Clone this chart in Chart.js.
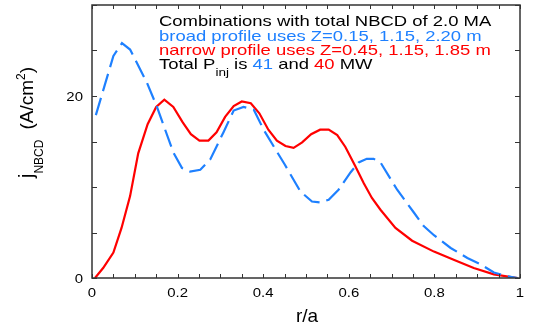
<!DOCTYPE html>
<html><head><meta charset="utf-8">
<script src="https://cdn.jsdelivr.net/npm/chart.js@4.4.1/dist/chart.umd.min.js"></script>
<style>html,body{margin:0;padding:0;background:#fff}#wrap{width:534px;height:329px}</style>
</head><body><div id="wrap"><canvas id="c" width="534" height="329"></canvas></div>
<script>
const broadX = [0.009,0.05,0.07,0.089,0.128,0.151,0.19,0.21,0.229,0.253,0.276,0.307,0.331,0.354,0.378,0.401,0.424,0.45,0.487,0.514,0.533,0.553,0.576,0.604,0.623,0.642,0.658,0.674,0.713,0.752,0.775,0.799,0.838,0.877,0.908,0.939,0.970,0.994];
const broadY = [17.9,24.4,25.8,25.1,21.5,18.9,13.8,12.1,11.7,11.9,13.0,16.0,18.4,18.8,18.5,16.3,14.5,12.5,9.5,8.4,8.3,8.6,9.7,11.6,12.7,13.1,13.1,12.7,9.7,7.2,5.7,4.7,3.3,2.2,1.5,0.6,0.2,0.0];
const narrowX = [0.007,0.026,0.05,0.069,0.089,0.108,0.13,0.15,0.169,0.19,0.212,0.231,0.251,0.272,0.291,0.311,0.331,0.35,0.371,0.391,0.412,0.432,0.452,0.471,0.491,0.512,0.533,0.553,0.573,0.592,0.615,0.635,0.654,0.674,0.709,0.748,0.799,0.845,0.892,0.939,0.994];
const narrowY = [0.0,1.1,2.8,5.5,9.0,13.7,16.9,18.8,19.6,18.8,17.1,15.8,15.1,15.1,16.0,17.7,18.9,19.4,19.2,18.1,16.3,15.1,14.5,14.3,14.9,15.8,16.3,16.3,15.7,14.4,12.3,10.4,8.8,7.5,5.5,4.1,2.9,2.0,1.1,0.4,0.0];
const xTickLabels = [0,0.2,0.4,0.6,0.8,1];
const yTickLabels = [0,20];
const BLUE = 'rgb(30,128,255)';
const RED = 'rgb(255,0,0)';
const FONT = '"Liberation Sans", Arial, sans-serif';

const pts = (xs, ys) => xs.map((x,i)=>({x, y: ys[i]}));

// draw text horizontally stretched by sx, anchored at (x,y)
function stretched(ctx, t, x, y, sx, align){
  ctx.save();
  ctx.translate(x, y); ctx.scale(sx, 1);
  ctx.textAlign = align || 'left';
  ctx.fillText(t, 0, 0);
  ctx.restore();
}

const frame = {
  id:'frame',
  afterDatasetsDraw(chart){
    const {ctx, chartArea:a, scales:{x,y}} = chart;
    ctx.save();
    ctx.strokeStyle = '#333'; ctx.lineWidth = 1.5;
    ctx.strokeRect(a.left, a.top, a.right-a.left, a.bottom-a.top);
    ctx.lineWidth = 1;
    ctx.beginPath();
    for (let v=0; v<=1.0001; v+=0.05){
      const px = Math.round(x.getPixelForValue(v))+0.5;
      ctx.moveTo(px,a.bottom); ctx.lineTo(px,a.bottom-4);
      ctx.moveTo(px,a.top); ctx.lineTo(px,a.top+4);
    }
    for (let v=0; v<=30.001; v+=5){
      const py = Math.round(y.getPixelForValue(v))+0.5;
      ctx.moveTo(a.left,py); ctx.lineTo(a.left+5,py);
      ctx.moveTo(a.right,py); ctx.lineTo(a.right-5,py);
    }
    ctx.stroke();
    // tick labels
    ctx.fillStyle = '#000'; ctx.font = '13px '+FONT; ctx.textBaseline = 'alphabetic';
    xTickLabels.forEach(v => stretched(ctx, String(v), x.getPixelForValue(v), 297, 1.15, 'center'));
    yTickLabels.forEach(v => stretched(ctx, String(v), 83, y.getPixelForValue(v)+4.5, 1.15, 'right'));
    // annotation text (stretched horizontally)
    const SX = 1.23;
    ctx.font = '15px '+FONT;
    const lx = 159;
    ctx.fillStyle='#000'; stretched(ctx, 'Combinations with total NBCD of 2.0 MA', lx, 26, SX);
    ctx.fillStyle=BLUE; stretched(ctx, 'broad profile uses Z=0.15, 1.15, 2.20 m', lx, 41, SX);
    ctx.fillStyle=RED; stretched(ctx, 'narrow profile uses Z=0.45, 1.15, 1.85 m', lx, 55, SX);
    let cx = lx;
    const seg = (t, col, f, dy)=>{ ctx.font=f; ctx.fillStyle=col; stretched(ctx, t, cx, 69+(dy||0), SX); cx += ctx.measureText(t).width*SX; };
    seg('Total P', '#000', '15px '+FONT);
    seg('inj', '#000', '11px '+FONT, 7);
    seg(' is ', '#000', '15px '+FONT);
    seg('41', BLUE, '15px '+FONT);
    seg(' and ', '#000', '15px '+FONT);
    seg('40', RED, '15px '+FONT);
    seg(' MW', '#000', '15px '+FONT);
    // x title
    ctx.fillStyle='#000'; ctx.font='19px '+FONT; ctx.textAlign='center';
    ctx.fillText('r/a', 307, 322);
    // y title rotated
    ctx.save();
    ctx.translate(33, 178); ctx.rotate(-Math.PI/2);
    ctx.textAlign='left';
    let tx = 0;
    const s2 = (t,f,dy)=>{ ctx.font=f; ctx.fillText(t, tx, dy||0); tx += ctx.measureText(t).width; };
    s2('j','20px '+FONT);
    s2('NBCD','12px '+FONT,10);
    s2('   ','12px '+FONT);
    s2('(A/cm','19px '+FONT);
    s2('2','12px '+FONT,-8);
    s2(')','19px '+FONT);
    ctx.restore();
    ctx.restore();
  }
};

new Chart(document.getElementById('c'), {
  type:'line',
  data:{datasets:[
    {data: pts(broadX, broadY), borderColor: BLUE, borderWidth: 2.2, borderDash:[18,7], pointRadius:0, fill:false, tension:0},
    {data: pts(narrowX, narrowY), borderColor: RED, borderWidth: 2.2, pointRadius:0, fill:false, tension:0}
  ]},
  options:{
    responsive:false, animation:false, devicePixelRatio:1,
    layout:{padding:{left:0,right:14,top:5,bottom:0}},
    plugins:{legend:{display:false}, tooltip:{enabled:false}},
    scales:{
      x:{type:'linear', min:0, max:1,
        afterFit: s => { s.height = 51; },
        grid:{display:false}, border:{display:false},
        ticks:{display:false}
      },
      y:{type:'linear', min:0, max:30,
        afterFit: s => { s.width = 92; },
        grid:{display:false}, border:{display:false},
        ticks:{display:false}
      }
    }
  },
  plugins:[frame]
});
</script></body></html>
